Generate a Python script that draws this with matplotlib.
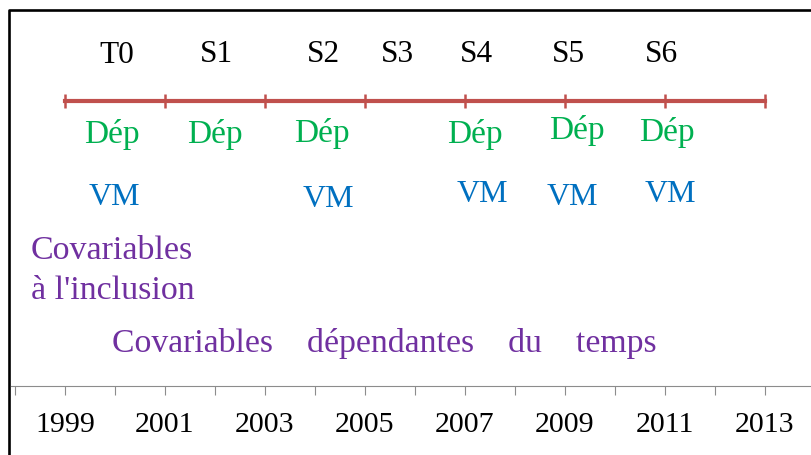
import matplotlib.pyplot as plt
from matplotlib.ticker import FixedLocator

plt.rcParams["font.family"] = ["Liberation Serif", "DejaVu Serif"]

# timeline data (years)
timeline_years = [1999, 2001, 2003, 2005, 2007, 2009, 2011, 2013]
session_labels = ["T0", "S1", "S2", "S3", "S4", "S5", "S6"]
session_years = [2000.03, 2002.02, 2004.16, 2005.65, 2007.22, 2009.06, 2010.92]
dep_years = [1999.94, 2002.0, 2004.13, 2007.2, 2009.24, 2011.04]
vm_years = [1999.98, 2004.26, 2007.34, 2009.14, 2011.1]
year_labels = ["1999", "2001", "2003", "2005", "2007", "2009", "2011", "2013"]
all_years = list(range(1998, 2014))

# colours
RED = "#C0504D"
GREEN = "#00B050"
BLUE = "#0070C0"
PURPLE = "#7030A0"
GREY = "#8C8C8C"

# layout (pixel rows, y grows downward)
W, H = 812, 455
x0 = 1997.7   # year at left edge of the figure
px_per_year = 50.0
row_session = [63, 62, 62, 62, 62, 62, 62]
row_line = 100.7
row_dep = [143, 143, 142, 143, 139, 141]
row_vm = [205, 207, 202, 205, 202]
row_axis = 385.7

fig = plt.figure(figsize=(W / 100, H / 100), dpi=100)
ax = fig.add_axes([0, 0, 1, 1])
ax.set_xlim(x0, x0 + W / px_per_year)
ax.set_ylim(H, 0)
ax.set_facecolor("white")

# frame (left and top only, the rest is cut off)
ax.plot([9.5 / W, 9.5 / W, 1], [0, 1 - 9.5 / H, 1 - 9.5 / H],
        transform=ax.transAxes, color="black", lw=1.9, clip_on=False,
        solid_capstyle="butt")

# red timeline
ax.plot(timeline_years, [row_line] * len(timeline_years), color=RED, lw=3.0,
        marker="|", markersize=10.5, markeredgewidth=1.8, zorder=3)

for lab, x, y in zip(session_labels, session_years, row_session):
    ax.text(x, y, lab, ha="center", va="baseline", fontsize=22.5, color="black")

for x, y in zip(dep_years, row_dep):
    ax.text(x, y, "Dép", ha="center", va="baseline", fontsize=24, color=GREEN)

for x, y in zip(vm_years, row_vm):
    ax.text(x, y, "VM", ha="center", va="baseline", fontsize=23, color=BLUE)

ax.text(x0 + 30.7 / px_per_year, 259, "Covariables", ha="left", va="baseline",
        fontsize=24.5, color=PURPLE)
ax.text(x0 + 30.7 / px_per_year, 299, "à l'inclusion", ha="left", va="baseline",
        fontsize=24.5, color=PURPLE)
ax.text(x0 + 111.7 / px_per_year, 352, "Covariables    dépendantes    du    temps",
        ha="left", va="baseline", fontsize=24.35, color=PURPLE)

# year axis
for side in ["top", "left", "right"]:
    ax.spines[side].set_visible(False)
ax.spines["bottom"].set_position(("data", row_axis))
ax.spines["bottom"].set_color(GREY)
ax.spines["bottom"].set_linewidth(0.8)
ax.spines["bottom"].set_bounds(x0 + 11 / px_per_year, x0 + W / px_per_year)
ax.xaxis.set_major_locator(FixedLocator(timeline_years))
ax.xaxis.set_minor_locator(FixedLocator([y for y in all_years if y % 2 == 0]))
ax.set_xticklabels(year_labels)
ax.tick_params(axis="x", which="both", direction="out", length=6.5, width=0.8,
               color=GREY)
ax.tick_params(axis="x", which="major", labelsize=21.5, pad=12.5,
               labelcolor="black")
ax.set_yticks([])

fig.savefig("out.png", dpi=100, facecolor="white")
